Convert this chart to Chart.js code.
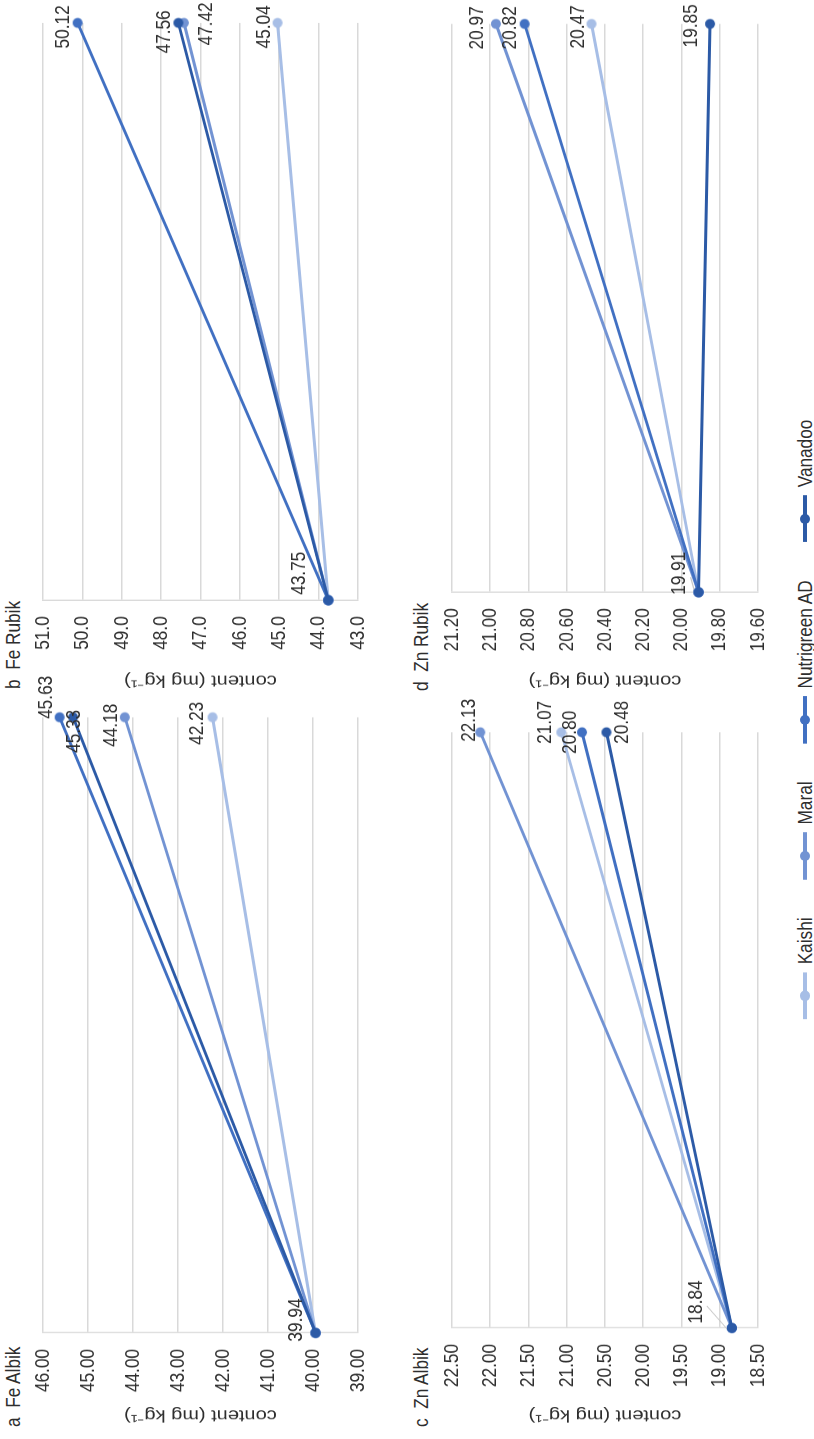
<!DOCTYPE html>
<html>
<head>
<meta charset="utf-8">
<script src="https://cdn.jsdelivr.net/npm/chart.js@4.4.1/dist/chart.umd.min.js"></script>
<style>
  html, body { margin: 0; padding: 0; background: #fff; overflow: hidden; }
  body { width: 814px; height: 1439px; position: relative; }
  /* the figure is laid out landscape, condensed along its width and turned a quarter to the left */
  #fig {
    position: absolute; left: 0; top: 0;
    height: 814px;
    transform-origin: 0 0;
    font-family: 'Liberation Sans', Arial, sans-serif;
    color: #2e2e2e;
  }
  .panel { position: absolute; }
  .panel-title { position: absolute; font-size: 21px; line-height: 26px; white-space: pre; }
  #legend {
    position: absolute; left: 0; width: 100%; top: 791px;
    display: flex; justify-content: center; align-items: center;
    font-size: 21px; line-height: 28px;
  }
  .item { display: flex; align-items: center; }
  .swatch { position: relative; height: 4px; }
  .swatch i { position: absolute; top: -3px; height: 10px; border-radius: 50%; }
</style>
</head>
<body>
<div id="fig">
  <div class="panel-title" id="tA">a  Fe Albik</div>
  <div class="panel-title" id="tB">b  Fe Rubik</div>
  <div class="panel-title" id="tC">c  Zn Albik</div>
  <div class="panel-title" id="tD">d  Zn Rubik</div>
  <canvas id="feAlbik" class="panel"></canvas>
  <canvas id="feRubik" class="panel"></canvas>
  <canvas id="znAlbik" class="panel"></canvas>
  <canvas id="znRubik" class="panel"></canvas>
  <div id="legend"></div>
</div>
<script>
const FONT = "'Liberation Sans', Arial, sans-serif";
const TEXT = '#2e2e2e';
const GRID = '#d9d9d9';
// horizontal squeeze of the whole figure (gives the narrow lettering)
const K = 0.82;
const FIG_W = 1439;

const varieties = ['Kaishi', 'Maral', 'Nutrigreen AD', 'Vanadoo'];
const colors = ['#a7bee6', '#7293d3', '#4170c2', '#2c5aa6'];
const stages = ['initial', 'final'];

// Fe, Albik
const feAlbikStart = 39.94;
const feAlbikEnd = [42.23, 44.18, 45.63, 45.33];
const feAlbikTicks = [39, 46, 1];
// Fe, Rubik
const feRubikStart = 43.75;
const feRubikEnd = [45.04, 47.42, 50.12, 47.56];
const feRubikTicks = [43, 51, 1];
// Zn, Albik
const znAlbikStart = 18.84;
const znAlbikEnd = [21.07, 22.13, 20.80, 20.48];
const znAlbikTicks = [18.5, 22.5, 0.5];
// Zn, Rubik
const znRubikStart = 19.91;
const znRubikEnd = [20.47, 20.97, 20.82, 19.85];
const znRubikTicks = [19.6, 21.2, 0.2];

const fig = document.getElementById('fig');
fig.style.width = (FIG_W / K) + 'px';
fig.style.transform = `translate(0, ${FIG_W}px) rotate(-90deg) scaleX(${K})`;

// markers pre-stretched so they come out round after the squeeze
function dot(color, r) {
  const c = document.createElement('canvas');
  const rx = r / K;
  c.width = Math.ceil(rx * 2) + 2;
  c.height = r * 2 + 2;
  const g = c.getContext('2d');
  g.fillStyle = color;
  g.beginPath();
  g.ellipse(c.width / 2, c.height / 2, rx, r, 0, 0, Math.PI * 2);
  g.fill();
  return c;
}

// value labels: dataset, point, offset from the point, optional leader line
const valueLabels = {
  id: 'valueLabels',
  beforeDatasetsDraw(chart, args, opts) {
    const ctx = chart.ctx;
    ctx.save();
    ctx.strokeStyle = '#c8c8c8';
    ctx.lineWidth = 1.2;
    opts.items.filter(it => it.leader).forEach(it => {
      const pt = chart.getDatasetMeta(it.ds).data[it.idx];
      ctx.beginPath();
      ctx.moveTo(pt.x + (it.dx - 4) / K, pt.y + it.dy + 11);
      ctx.lineTo(pt.x - 3 / K, pt.y - 3);
      ctx.stroke();
    });
    ctx.restore();
  },
  afterDatasetsDraw(chart, args, opts) {
    const ctx = chart.ctx;
    ctx.save();
    ctx.font = `21px ${FONT}`;
    ctx.fillStyle = TEXT;
    ctx.textAlign = 'center';
    ctx.textBaseline = 'middle';
    opts.items.forEach(it => {
      const pt = chart.getDatasetMeta(it.ds).data[it.idx];
      const v = chart.data.datasets[it.ds].data[it.idx];
      ctx.fillText(v.toFixed(opts.decimals), pt.x + it.dx / K, pt.y + it.dy);
    });
    ctx.restore();
  }
};

// geometry below is in final screen pixels along the figure width
function drawPanel(id, start, end, ticks, tickDecimals, geom, labels) {
  const [min, max, step] = ticks;
  const canvas = document.getElementById(id);
  canvas.width = Math.round(geom.width / K);
  canvas.height = 390;
  canvas.style.left = (geom.left / K) + 'px';
  canvas.style.top = geom.top + 'px';
  new Chart(canvas, {
    type: 'line',
    data: {
      labels: stages,
      datasets: varieties.map((name, i) => ({
        label: name,
        data: [start, end[i]],
        borderColor: colors[i],
        backgroundColor: colors[i],
        borderWidth: 3,
        pointStyle: dot(colors[i], 5),
        order: varieties.length - i
      }))
    },
    options: {
      responsive: false,
      animation: false,
      layout: {
        padding: {
          left: 0,
          top: geom.plotTop,
          right: (geom.width - geom.plotRight) / K,
          bottom: 390 - geom.plotBottom
        }
      },
      plugins: {
        legend: { display: false },
        tooltip: { enabled: false },
        valueLabels: { items: labels, decimals: 2 }
      },
      scales: {
        x: { display: false, offset: false },
        y: {
          min: min,
          max: max,
          afterFit(scale) { scale.width = geom.plotLeft / K; },
          ticks: {
            stepSize: step,
            padding: 16 / K,
            color: TEXT,
            font: { family: FONT, size: 21 },
            callback: v => Number(v).toFixed(tickDecimals)
          },
          grid: { color: GRID, lineWidth: 1.5, drawTicks: false },
          border: { display: true, color: GRID, width: 1.5 },
          title: {
            display: true,
            text: 'content (mg kg⁻¹)',
            color: TEXT,
            font: { family: FONT, size: 20 },
            padding: { top: 14 / K, bottom: 0 }
          }
        }
      }
    },
    plugins: [valueLabels]
  });
}

drawPanel('feAlbik', feAlbikStart, feAlbikEnd, feAlbikTicks, 2,
  { left: 0, top: 0, width: 790, plotLeft: 106, plotRight: 722, plotTop: 43, plotBottom: 365 },
  [
    { ds: 3, idx: 0, dx: 13, dy: -19 },
    { ds: 0, idx: 1, dx: -6, dy: -15 },
    { ds: 1, idx: 1, dx: -8, dy: -14 },
    { ds: 2, idx: 1, dx: 20, dy: -13 },
    { ds: 3, idx: 1, dx: -14, dy: 1 }
  ]);

drawPanel('feRubik', feRubikStart, feRubikEnd, feRubikTicks, 1,
  { left: 735, top: 0, width: 704, plotLeft: 104, plotRight: 681, plotTop: 43, plotBottom: 358 },
  [
    { ds: 3, idx: 0, dx: 27, dy: -29 },
    { ds: 0, idx: 1, dx: -4, dy: -13 },
    { ds: 1, idx: 1, dx: -1, dy: 22 },
    { ds: 2, idx: 1, dx: -4, dy: -14 },
    { ds: 3, idx: 1, dx: -9, dy: -14 }
  ]);

drawPanel('znAlbik', znAlbikStart, znAlbikEnd, znAlbikTicks, 2,
  { left: 0, top: 400, width: 790, plotLeft: 111, plotRight: 707, plotTop: 52, plotBottom: 368 },
  [
    { ds: 3, idx: 0, dx: 26, dy: -36, leader: true },
    { ds: 0, idx: 1, dx: 10, dy: -16 },
    { ds: 1, idx: 1, dx: 12, dy: -11 },
    { ds: 2, idx: 1, dx: 0, dy: -12 },
    { ds: 3, idx: 1, dx: 10, dy: 16 }
  ]);

drawPanel('znRubik', znRubikStart, znRubikEnd, znRubikTicks, 2,
  { left: 735, top: 400, width: 704, plotLeft: 112, plotRight: 680, plotTop: 52, plotBottom: 368 },
  [
    { ds: 3, idx: 0, dx: 19, dy: -19, leader: true },
    { ds: 0, idx: 1, dx: -3, dy: -13 },
    { ds: 1, idx: 1, dx: -4, dy: -19 },
    { ds: 2, idx: 1, dx: -4, dy: -14 },
    { ds: 3, idx: 1, dx: -2, dy: -19 }
  ]);

// panel captions
[['tA', 12, 0], ['tB', 750, 0], ['tC', 12, 408], ['tD', 748, 408]].forEach(([id, x, y]) => {
  const el = document.getElementById(id);
  el.style.left = (x / K) + 'px';
  el.style.top = y + 'px';
});

// shared legend below the four panels
const legend = document.getElementById('legend');
varieties.forEach((name, i) => {
  const item = document.createElement('div');
  item.className = 'item';
  item.style.margin = `0 ${19 / K}px`;
  item.innerHTML =
    `<span class="swatch" style="background:${colors[i]};width:${47 / K}px;margin-right:${8 / K}px">` +
    `<i style="background:${colors[i]};width:${10 / K}px;left:${(23.5 - 5) / K}px"></i></span>` +
    `<span>${name}</span>`;
  legend.appendChild(item);
});
</script>
</body>
</html>
